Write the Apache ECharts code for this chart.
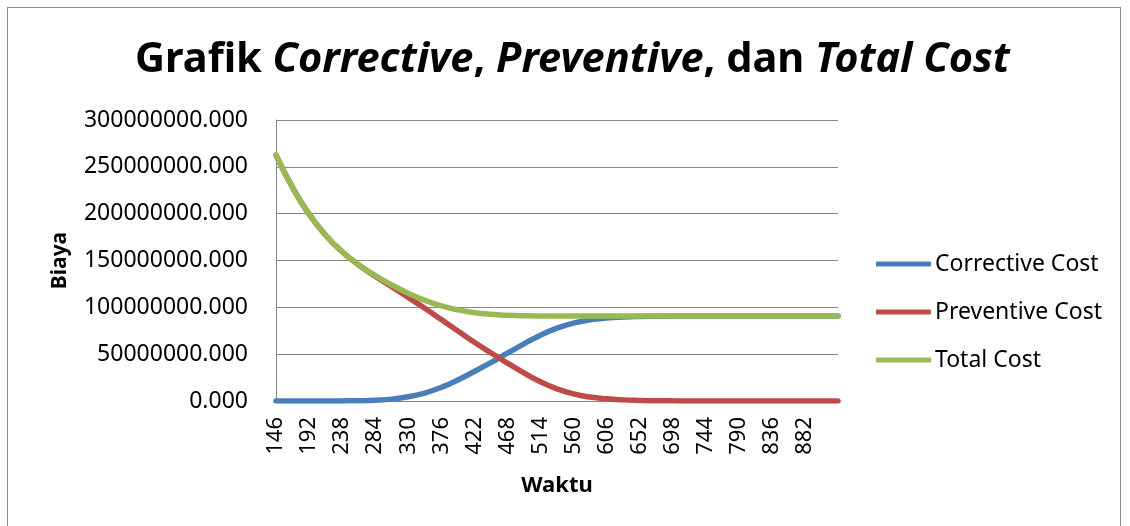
<!DOCTYPE html>
<html>
<head>
<meta charset="utf-8">
<script src="https://cdn.jsdelivr.net/npm/echarts@6/dist/echarts.min.js"></script>
<style>
  html, body { margin: 0; padding: 0; background: #ffffff; }
  #frame { position: absolute; left: 7px; top: 7px; width: 1114px; height: 600px; border: 1px solid #8c8c8c; box-sizing: border-box; }
  #chart { position: absolute; left: 0; top: 0; width: 1130px; height: 526px; }
</style>
</head>
<body>
<div id="frame"></div>
<div id="chart"></div>
<script>
// Time categories (Waktu)
var waktu = ['146','169','192','215','238','261','284','307','330','353','376','399','422','445','468','491','514','537','560','583','606','629','652','675','698','721','744','767','790','813','836','859','882','905','928'];
// Tick labels shown on the x axis
var tickLabels = ['146','192','238','284','330','376','422','468','514','560','606','652','698','744','790','836','882'];
// Y-axis tick values
var yTicks = [0, 50000000, 100000000, 150000000, 200000000, 250000000, 300000000];

var correctiveCost = [0, 0, 0, 0, 100000, 300000, 800000, 2000000, 4500000, 8500000, 14500000, 22500000, 31500000, 41000000, 51000000, 61000000, 70300000, 77800000, 83200000, 86600000, 88500000, 89600000, 90200000, 90500000, 90650000, 90700000, 90750000, 90750000, 90800000, 90800000, 90800000, 90800000, 90800000, 90800000, 90800000];
var preventiveCost = [262600000, 228000000, 199500000, 177000000, 159400000, 145200000, 133200000, 122000000, 110500000, 99000000, 87000000, 74800000, 62800000, 51500000, 40500000, 30000000, 20500000, 13000000, 7600000, 4200000, 2300000, 1200000, 600000, 300000, 150000, 100000, 50000, 50000, 0, 0, 0, 0, 0, 0, 0];
var totalCost = [262600000, 228000000, 199500000, 177000000, 159500000, 145500000, 134000000, 124000000, 115000000, 107500000, 101500000, 97300000, 94300000, 92500000, 91500000, 91000000, 90800000, 90800000, 90800000, 90800000, 90800000, 90800000, 90800000, 90800000, 90800000, 90800000, 90800000, 90800000, 90800000, 90800000, 90800000, 90800000, 90800000, 90800000, 90800000];

var FONT = 'Noto Sans';
var chart = echarts.init(document.getElementById('chart'), null, { renderer: 'canvas' });
var option = {
  animation: false,
  title: {
    text: '{a|Grafik }{b|Corrective}{a|, }{b|Preventive}{a|, dan }{b|Total Cost}',
    left: 130,
    top: 34,
    textStyle: {
      rich: {
        a: { fontFamily: FONT, fontWeight: 'bold', fontSize: 41.5, color: '#000' },
        b: { fontFamily: FONT, fontWeight: 'bold', fontStyle: 'italic', fontSize: 41.5, color: '#000' }
      }
    }
  },
  legend: {
    orient: 'vertical',
    left: 876,
    top: 252,
    padding: 0,
    itemWidth: 55,
    itemHeight: 5,
    itemGap: 24,
    icon: 'roundRect',
    textStyle: { fontFamily: FONT, fontSize: 23, color: '#000', lineHeight: 24, padding: [0, 0, 0, -1] },
    data: ['Corrective Cost', 'Preventive Cost', 'Total Cost']
  },
  grid: { left: 276, top: 120, right: 292, bottom: 125, containLabel: false },
  xAxis: {
    type: 'category',
    data: waktu,
    boundaryGap: false,
    name: 'Waktu',
    nameLocation: 'middle',
    nameGap: 74,
    nameTextStyle: { fontFamily: FONT, fontWeight: 'bold', fontSize: 22, color: '#000' },
    axisLine: { lineStyle: { color: '#868686', width: 1 } },
    axisTick: { show: false },
    axisLabel: {
      rotate: 90,
      margin: 16,
      fontFamily: FONT,
      fontSize: 22,
      color: '#000',
      interval: function (idx, val) { return tickLabels.indexOf(val) !== -1; }
    },
    splitLine: { show: false }
  },
  yAxis: {
    type: 'value',
    min: yTicks[0],
    max: yTicks[yTicks.length - 1],
    interval: yTicks[1] - yTicks[0],
    name: 'Biaya',
    nameLocation: 'middle',
    nameRotate: 90,
    nameGap: 205,
    nameTextStyle: { fontFamily: FONT, fontWeight: 'bold', fontSize: 21, color: '#000' },
    axisLine: { show: true, lineStyle: { color: '#868686', width: 1 } },
    axisTick: { show: false },
    axisLabel: {
      margin: 28,
      fontFamily: FONT,
      fontSize: 23,
      color: '#000',
      formatter: function (v) { return v.toFixed(3); }
    },
    splitLine: { lineStyle: { color: '#868686', width: 1 } }
  },
  series: [
    { name: 'Corrective Cost', type: 'line', data: correctiveCost, smooth: true, showSymbol: false, symbol: 'none', z: 3,
      lineStyle: { color: '#4a7ebb', width: 5.5, cap: 'round' }, itemStyle: { color: '#4a7ebb' } },
    { name: 'Preventive Cost', type: 'line', data: preventiveCost, smooth: true, showSymbol: false, symbol: 'none', z: 4,
      lineStyle: { color: '#be4b48', width: 5.5, cap: 'round' }, itemStyle: { color: '#be4b48' } },
    { name: 'Total Cost', type: 'line', data: totalCost, smooth: true, showSymbol: false, symbol: 'none', z: 5,
      lineStyle: { color: '#98b954', width: 5.5, cap: 'round' }, itemStyle: { color: '#98b954' } }
  ]
};
chart.setOption(option);
</script>
</body>
</html>
